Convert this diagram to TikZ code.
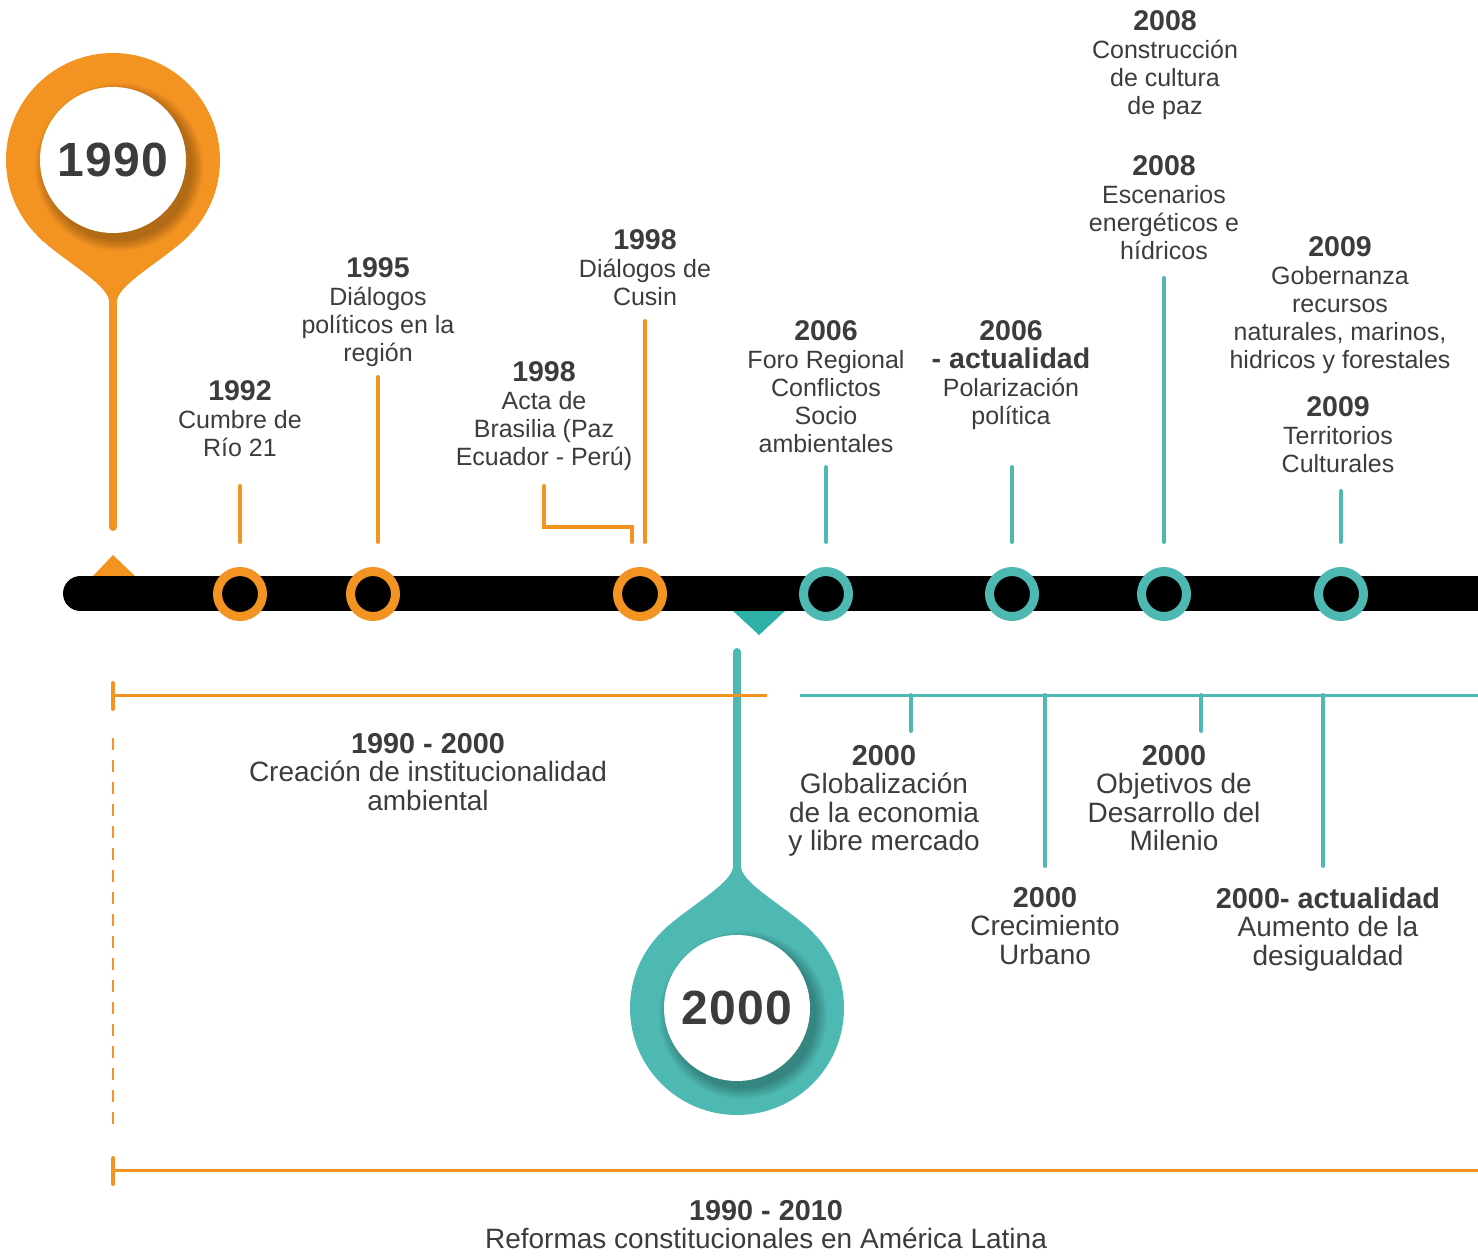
\documentclass[tikz,border=0pt]{standalone}
\usepackage{fontspec}
\setmainfont{Liberation Sans}
\definecolor{orng}{HTML}{F39321}
\definecolor{tealc}{HTML}{4DB9B2}
\definecolor{tealdk}{HTML}{2DB1A7}
\definecolor{txt}{HTML}{3C3C3C}
\newcommand\yb[1]{{\fontsize{21.4}{21}\selectfont\bfseries #1}}
\newcommand\yl[1]{{\fontsize{21.6}{21.4}\selectfont\bfseries #1}}
\begin{document}
\begin{tikzpicture}[x=0.75pt,y=-0.75pt,
  up/.style={align=center, anchor=north, inner sep=0pt, text=txt, font=\fontsize{18.75}{21}\selectfont},
  low/.style={align=center, anchor=north, inner sep=0pt, text=txt, font=\fontsize{21}{21.4}\selectfont},
  tick/.style={line width=3pt, line cap=round},
  rail/.style={line width=2.25pt},
  ring/.style={line width=6.75pt, fill=black},
  big/.style={inner sep=0pt, text=txt, font=\fontsize{36}{36}\selectfont\bfseries},
  pin/.pic={
    \fill (0,0) circle[radius=107];
    \fill (-75.7,75.7) .. controls (-50,101) and (-8,122) .. (-4,140) -- (4,140)
      .. controls (8,122) and (50,101) .. (75.7,75.7) -- cycle;
  }]
\useasboundingbox (0,0) rectangle (1478,1259);
\begin{scope}
\clip (0,0) rectangle (1478,1259);

% triangles
\fill[orng] (92,577) -- (113,555) -- (136,577) -- cycle;
\fill[tealdk] (732,610) -- (759,635) -- (786,610) -- cycle;

% main bar
\coordinate (barL) at (80.5,593.5);
\coordinate (barR) at (1500,593.5);
\draw[line width=26.25pt, line cap=round, color=black] (barL) -- (barR);

% pin 1990
\coordinate (c1990) at (113,160);
\coordinate (l1990a) at (113,290);
\coordinate (l1990b) at (113,527);
\draw[orng, line width=6pt, line cap=round] (l1990a) -- (l1990b);
\pic[fill=orng] at (c1990) {pin};
\foreach \k in {0,...,11} \fill[black, opacity=0.025] (119,167) circle[radius=73+\k];
\fill[white] (c1990) circle[radius=73];
\node[big] (t1990) at (c1990) {1\kern1pt9\kern1pt9\kern1pt0};

% pin 2000
\coordinate (c2000) at (737,1008);
\coordinate (l2000a) at (737,652);
\coordinate (l2000b) at (737,880);
\draw[tealc, line width=6pt, line cap=round] (l2000a) -- (l2000b);
\pic[fill=tealc, yscale=-1] at (c2000) {pin};
\foreach \k in {0,...,11} \fill[black, opacity=0.025] (743,1015) circle[radius=73+\k];
\fill[white] (c2000) circle[radius=73];
\node[big] (t2000) at (c2000) {2\kern1pt0\kern1pt0\kern1pt0};

% rings on the bar
\draw[orng, ring] (240,594) circle[radius=22.5];
\draw[orng, ring] (373,594) circle[radius=22.5];
\draw[orng, ring] (640,594) circle[radius=22.5];
\draw[tealc, ring] (826,594) circle[radius=22.5];
\draw[tealc, ring] (1012,594) circle[radius=22.5];
\draw[tealc, ring] (1164,594) circle[radius=22.5];
\draw[tealc, ring] (1341,594) circle[radius=22.5];

% upper ticks
\draw[orng, tick] (240,486) -- (240,542);
\draw[orng, tick] (378,377) -- (378,542);
\draw[orng, tick] (645,321) -- (645,542);
\draw[orng, tick] (544,486) -- (544,527) -- (632,527) -- (632,542);
\draw[tealc, tick] (826,467) -- (826,542);
\draw[tealc, tick] (1012,467) -- (1012,542);
\draw[tealc, tick] (1164,278) -- (1164,542);
\draw[tealc, tick] (1341,491) -- (1341,542);

% lower rails
\draw[orng, rail] (113,695) -- (767,695);
\draw[orng, tick] (113,683) -- (113,709);
\draw[orng, line width=1pt, dash pattern=on 9pt off 7.5pt] (113,738) -- (113,1125);
\draw[tealc, rail] (800,695) -- (1478,695);
\draw[tealc, tick] (911,695) -- (911,731);
\draw[tealc, tick] (1045,695) -- (1045,866);
\draw[tealc, tick] (1201,695) -- (1201,731);
\draw[tealc, tick] (1323,695) -- (1323,866);
\draw[orng, rail] (113,1170) -- (1478,1170);
\draw[orng, tick] (113,1158) -- (113,1184);
\end{scope}

% upper texts
\node[up] (e1992) at (240,380) {\yb{1992}\\Cumbre de\\Río 21};
\node[up] (e1995) at (378,257) {\yb{1995}\\Diálogos\\políticos en la\\región};
\node[up] (e1998a) at (544,361) {\yb{1998}\\Acta de\\Brasilia (Paz\\Ecuador - Perú)};
\node[up] (e1998b) at (645,229) {\yb{1998}\\Diálogos de\\Cusin};
\node[up] (e2006a) at (826,320) {\yb{2006}\\Foro Regional\\Conflictos\\Socio\\ambientales};
\node[up] (e2006b) at (1011,320) {\yb{2006}\\\yb{- actualidad}\\Polarización\\política};
\node[up] (e2008a) at (1165,10) {\yb{2008}\\Construcción\\de cultura\\de paz};
\node[up] (e2008b) at (1164,155) {\yb{2008}\\Escenarios\\energéticos e\\hídricos};
\node[up] (e2009a) at (1340,236) {\yb{2009}\\Gobernanza\\recursos\\naturales, marinos,\\hidricos y forestales};
\node[up] (e2009b) at (1338,396) {\yb{2009}\\Territorios\\Culturales};

% lower texts
\node[low] (p1) at (428,733) {\yl{1990 - 2000}\\Creación de institucionalidad\\ambiental};
\node[low] (p2) at (884,745) {\yl{2000}\\Globalización\\de la economia\\y libre mercado};
\node[low] (p3) at (1045,887) {\yl{2000}\\Crecimiento\\Urbano};
\node[low] (p4) at (1174,745) {\yl{2000}\\Objetivos de\\Desarrollo del\\Milenio};
\node[low] (p5) at (1328,887) {\yl{2000- actualidad}\\Aumento de la\\desigualdad};
\node[low] (p6) at (766,1200) {\yl{1990 - 2010}\\Reformas constitucionales en América Latina};
\end{tikzpicture}
\end{document}
